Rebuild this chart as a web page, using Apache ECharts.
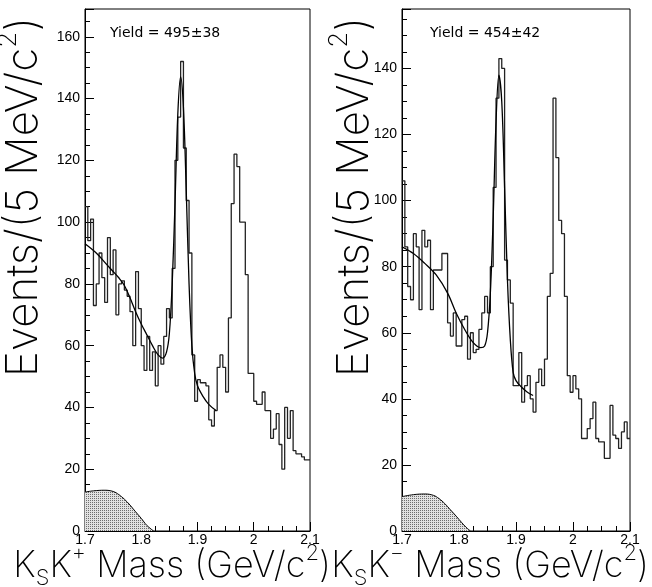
<!DOCTYPE html>
<html><head><meta charset="utf-8">
<script src="https://cdn.jsdelivr.net/npm/echarts@6/dist/echarts.min.js"></script>
<style>html,body{margin:0;padding:0;background:#fff}#c{width:652px;height:587px}</style>
</head><body><div id="c"></div>
<script>
// ---- data ----
const binStart = 1.7;      // GeV/c^2
const binWidth = 0.005;    // 5 MeV bins
const xTickLabels = ['1.7', '1.8', '1.9', '2', '2.1'];
const yieldLabels = ['Yield = 495\u00b138', 'Yield = 454\u00b142'];
const xTitles = ['{a|K}{s|S}{a|K}{p|+}{a| Mass (GeV/c}{p|2}{a|)}', '{a|K}{s|S}{a|K}{p|\u2212}{a| Mass (GeV/c}{p|2}{a|)}'];
const yTitle = '{a|Events/(5 MeV/c}{p|2}{a|)}';

const leftCounts = [105, 94, 101, 73, 80, 90, 82, 74, 95, 83,
  91, 70, 80, 81, 78, 76, 71, 60, 84, 72,
  60, 52, 63, 52, 58, 47, 60, 54, 63, 72,
  69, 85, 120, 134, 152, 124, 107, 90, 57, 42,
  49, 48, 48, 47, 36, 34, 39, 53, 57, 53,
  45, 69, 106, 122, 118, 100, 100, 83, 51, 51,
  42, 41, 41, 45, 39, 39, 30, 33, 38, 28,
  20, 40, 30, 39, 26, 25, 25, 24, 23, 23];

const rightCounts = [106, 86, 74, 70, 90, 86, 67, 91, 86, 88,
  67, 79, 79, 79, 84, 84, 63, 59, 66, 56,
  56, 64, 65, 52, 60, 54, 55, 61, 66, 71,
  66, 80, 104, 131, 143, 140, 82, 76, 69, 44,
  44, 54, 39, 44, 47, 40, 36, 45, 49, 44,
  52, 71, 78, 131, 113, 94, 90, 71, 47, 42,
  47, 43, 40, 28, 28, 31, 34, 39, 28, 27,
  27, 22, 22, 38, 29, 28, 25, 30, 33, 28];

const leftFitMass = [1.700, 1.720, 1.740, 1.750, 1.760, 1.770, 1.780, 1.790, 1.800, 1.810, 1.820, 1.830, 1.838, 1.845, 1.850, 1.855, 1.860, 1.865, 1.870, 1.875, 1.880, 1.885, 1.890, 1.895, 1.900, 1.910, 1.920, 1.933];
const leftFitEvents = [93, 90, 86, 84, 82, 79.5, 75.5, 71, 67, 63.5, 60, 57, 56, 58, 64, 80, 106, 135, 147, 137, 110, 80, 60, 51, 47, 43.5, 41, 39];

const rightFitMass = [1.700, 1.720, 1.740, 1.760, 1.780, 1.795, 1.810, 1.825, 1.838, 1.845, 1.850, 1.855, 1.860, 1.865, 1.870, 1.875, 1.880, 1.885, 1.890, 1.895, 1.900, 1.910, 1.920, 1.930];
const rightFitEvents = [86, 84, 81, 77.5, 72, 66, 61, 57, 55.5, 56, 60, 72, 95, 124, 138, 130, 104, 76, 58, 48, 45.5, 43.5, 42, 41];

const leftBgMass = [1.700, 1.715, 1.735, 1.750, 1.760, 1.770, 1.780, 1.790, 1.800, 1.810, 1.822];
const leftBgEvents = [12.6, 13, 13.2, 12.8, 11.8, 10.3, 8.4, 6.2, 4.1, 1.8, 0];

const rightBgMass = [1.700, 1.720, 1.740, 1.755, 1.765, 1.775, 1.785, 1.795, 1.805, 1.812, 1.820];
const rightBgEvents = [10.4, 11, 11.2, 10.8, 9.8, 8.3, 6.4, 4.5, 2.5, 1.2, 0];

// ---- helpers ----
function histPoints(counts) {
  const pts = counts.map((v, i) => [+(binStart + i * binWidth).toFixed(3), v]);
  pts.push([+(binStart + counts.length * binWidth).toFixed(3), counts[counts.length - 1]]);
  return pts;
}
function zip(xs, ys) { return xs.map((x, i) => [x, ys[i]]); }

const pat = document.createElement('canvas');
pat.width = 2; pat.height = 2;
(function () {
  const g = pat.getContext('2d');
  g.fillStyle = '#e2e2e2'; g.fillRect(0, 0, 2, 2);
  g.fillStyle = '#6e6e6e'; g.fillRect(0, 0, 1, 1);
})();

const tickFont = 'Liberation Sans';
const titleFont = 'Inter, "DejaVu Sans", sans-serif';
function rich(size) {
  const sub = Math.round(size * 0.6);
  return {
    a: { fontFamily: titleFont, fontWeight: 200, fontSize: size, lineHeight: Math.round(size * 1.3), fill: '#000' },
    p: { fontFamily: titleFont, fontWeight: 200, fontSize: sub, lineHeight: sub, verticalAlign: 'top', fill: '#000' },
    s: { fontFamily: titleFont, fontWeight: 200, fontSize: sub, lineHeight: sub, verticalAlign: 'bottom', fill: '#000' }
  };
}

const panels = [
  { grid: { left: 85, right: 342, top: 9, bottom: 56 }, ymax: 169, yieldX: 110, xTitleEnd: 331, yTitleX: 24 },
  { grid: { left: 402, right: 22, top: 9, bottom: 56 }, ymax: 158, yieldX: 430, xTitleEnd: 649, yTitleX: 355 }
];

const graphics = [];
panels.forEach((p, i) => {
  graphics.push({ type: 'text', x: p.yieldX, y: 33, silent: true,
    style: { text: yieldLabels[i], fontFamily: 'DejaVu Sans', fontSize: 14, fill: '#000', verticalAlign: 'middle' } });
  graphics.push({ type: 'text', x: p.xTitleEnd, y: 566, silent: true,
    style: { text: xTitles[i], rich: rich(36), align: 'right', verticalAlign: 'middle' } });
  graphics.push({ type: 'text', x: p.yTitleX, y: 17, rotation: Math.PI / 2, silent: true,
    style: { text: yTitle, rich: rich(44), align: 'right', verticalAlign: 'middle' } });
});

const option = {
  backgroundColor: '#fff',
  animation: false,
  graphic: graphics,
  grid: panels.map(p => Object.assign({ show: true, borderColor: '#000', borderWidth: 1, containLabel: false, outerBoundsMode: 'none' }, p.grid)),
  xAxis: panels.map((p, i) => ({
    type: 'value', gridIndex: i, min: 1.7, max: 2.1, interval: 0.1,
    axisLine: { show: true, lineStyle: { color: '#000', width: 1 } },
    axisTick: { show: true, inside: true, length: 9, lineStyle: { color: '#000' } },
    minorTick: { show: true, splitNumber: 4, length: 5, lineStyle: { color: '#000' } },
    splitLine: { show: false },
    axisLabel: {
      margin: 2, fontFamily: tickFont, fontSize: 14, color: '#000',
      formatter: v => xTickLabels[Math.round((v - 1.7) / 0.1)] ?? ''
    }
  })),
  yAxis: panels.map((p, i) => ({
    type: 'value', gridIndex: i, min: 0, max: p.ymax, interval: 20,
    axisLine: { show: true, lineStyle: { color: '#000', width: 1 } },
    axisTick: { show: true, inside: true, length: 9, lineStyle: { color: '#000' } },
    minorTick: { show: true, splitNumber: 4, length: 5, lineStyle: { color: '#000' } },
    splitLine: { show: false },
    axisLabel: { margin: 5, fontFamily: tickFont, fontSize: 14, color: '#000', showMaxLabel: false }
  })),
  series: [
    { type: 'line', xAxisIndex: 0, yAxisIndex: 0, data: zip(leftBgMass, leftBgEvents), smooth: 0.4, symbol: 'none',
      lineStyle: { color: '#000', width: 1 }, areaStyle: { color: { image: pat, repeat: 'repeat' }, opacity: 1 }, z: 1 },
    { type: 'line', xAxisIndex: 1, yAxisIndex: 1, data: zip(rightBgMass, rightBgEvents), smooth: 0.4, symbol: 'none',
      lineStyle: { color: '#000', width: 1 }, areaStyle: { color: { image: pat, repeat: 'repeat' }, opacity: 1 }, z: 1 },
    { type: 'line', xAxisIndex: 0, yAxisIndex: 0, data: histPoints(leftCounts), step: 'end', symbol: 'none',
      lineStyle: { color: '#222', width: 1.3 }, z: 2 },
    { type: 'line', xAxisIndex: 1, yAxisIndex: 1, data: histPoints(rightCounts), step: 'end', symbol: 'none',
      lineStyle: { color: '#222', width: 1.3 }, z: 2 },
    { type: 'line', xAxisIndex: 0, yAxisIndex: 0, data: zip(leftFitMass, leftFitEvents), smooth: 0.35, symbol: 'none',
      lineStyle: { color: '#000', width: 1.3 }, z: 3 },
    { type: 'line', xAxisIndex: 1, yAxisIndex: 1, data: zip(rightFitMass, rightFitEvents), smooth: 0.35, symbol: 'none',
      lineStyle: { color: '#000', width: 1.3 }, z: 3 }
  ]
};

const chart = echarts.init(document.getElementById('c'), null, { renderer: 'canvas' });
chart.setOption(option);
</script>
</body></html>
